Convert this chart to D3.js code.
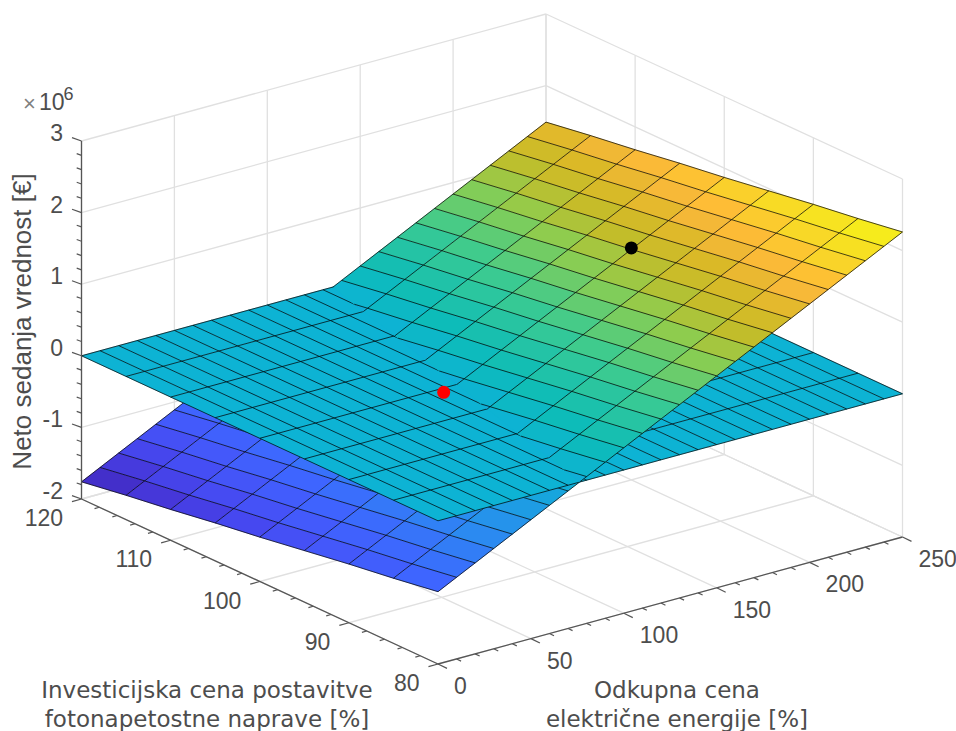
<!DOCTYPE html>
<html>
<head>
<meta charset="utf-8">
<title>Neto sedanja vrednost</title>
<script src="https://cdn.jsdelivr.net/npm/d3@7"></script>
<style>
  body { margin: 0; background: #fff; }
  text { font-family: "Liberation Sans", Arial, sans-serif; fill: #4d4d4d; }
</style>
</head>
<body>
<div id="chart"></div>
<script>
// grid of both surfaces
const priceValues = [0, 10, 20, 30, 40, 50, 60, 70, 80, 90, 100, 110, 120, 130, 140, 150, 160, 170, 180, 190, 200, 210, 220, 230, 240, 250];
const investValues = [120, 115, 110, 105, 100, 95, 90, 85, 80];

// tilted surface, z in millions, one row per investValues entry
const tiltedZ = [
  [-1.76, -1.63, -1.50, -1.37, -1.24, -1.11, -0.98, -0.85, -0.72, -0.59, -0.46, -0.33, -0.20, -0.07, 0.06, 0.19, 0.32, 0.45, 0.58, 0.71, 0.84, 0.97, 1.10, 1.23, 1.36, 1.49],
  [-1.66, -1.53, -1.40, -1.27, -1.14, -1.01, -0.88, -0.75, -0.62, -0.49, -0.36, -0.23, -0.10, 0.03, 0.16, 0.29, 0.42, 0.55, 0.68, 0.81, 0.94, 1.07, 1.20, 1.33, 1.46, 1.59],
  [-1.57, -1.44, -1.31, -1.18, -1.05, -0.92, -0.79, -0.66, -0.53, -0.40, -0.27, -0.14, -0.01, 0.12, 0.25, 0.38, 0.51, 0.64, 0.77, 0.90, 1.03, 1.16, 1.29, 1.42, 1.55, 1.68],
  [-1.47, -1.34, -1.21, -1.08, -0.95, -0.82, -0.69, -0.56, -0.43, -0.30, -0.17, -0.04, 0.09, 0.22, 0.35, 0.48, 0.61, 0.74, 0.87, 1.00, 1.13, 1.26, 1.39, 1.52, 1.65, 1.78],
  [-1.38, -1.25, -1.12, -0.99, -0.86, -0.73, -0.60, -0.47, -0.34, -0.21, -0.08, 0.05, 0.18, 0.31, 0.44, 0.57, 0.70, 0.83, 0.96, 1.09, 1.22, 1.35, 1.48, 1.61, 1.74, 1.87],
  [-1.28, -1.15, -1.02, -0.89, -0.76, -0.63, -0.50, -0.37, -0.24, -0.11, 0.02, 0.15, 0.28, 0.41, 0.54, 0.67, 0.80, 0.93, 1.06, 1.19, 1.32, 1.45, 1.58, 1.71, 1.84, 1.97],
  [-1.18, -1.05, -0.92, -0.79, -0.66, -0.53, -0.40, -0.27, -0.14, -0.01, 0.12, 0.25, 0.38, 0.51, 0.64, 0.77, 0.90, 1.03, 1.16, 1.29, 1.42, 1.55, 1.68, 1.81, 1.94, 2.07],
  [-1.09, -0.96, -0.83, -0.70, -0.57, -0.44, -0.31, -0.18, -0.05, 0.08, 0.21, 0.34, 0.47, 0.60, 0.73, 0.86, 0.99, 1.12, 1.25, 1.38, 1.51, 1.64, 1.77, 1.90, 2.03, 2.16],
  [-0.99, -0.86, -0.73, -0.60, -0.47, -0.34, -0.21, -0.08, 0.05, 0.18, 0.31, 0.44, 0.57, 0.70, 0.83, 0.96, 1.09, 1.22, 1.35, 1.48, 1.61, 1.74, 1.87, 2.00, 2.13, 2.26]
];

// the flat surface sits at zero everywhere
const flatRow = [0, 0, 0, 0, 0, 0, 0, 0, 0, 0, 0, 0, 0, 0, 0, 0, 0, 0, 0, 0, 0, 0, 0, 0, 0, 0];
const flatZ = [flatRow, flatRow, flatRow, flatRow, flatRow, flatRow, flatRow, flatRow, flatRow];

// marked points: price, invest, z
const redPoint = [99, 100, -0.06];
const blackPoint = [200, 100, 1.24];

// ticks
const xMajor = [0, 50, 100, 150, 200, 250];
const xMinor = [10, 20, 30, 40, 60, 70, 80, 90, 110, 120, 130, 140, 160, 170, 180, 190, 210, 220, 230, 240];
const yMajor = [80, 90, 100, 110, 120];
const yMinor = [82, 84, 86, 88, 92, 94, 96, 98, 102, 104, 106, 108, 112, 114, 116, 118];
const zMajor = [-2, -1, 0, 1, 2, 3];
const zMinor = [-1.8, -1.6, -1.4, -1.2, -0.8, -0.6, -0.4, -0.2, 0.2, 0.4, 0.6, 0.8, 1.2, 1.4, 1.6, 1.8, 2.2, 2.4, 2.6, 2.8];

// colormap
const colorLevels = [-1.76, -1.56, -1.36, -1.16, -0.96, -0.56, 0, 0.24, 0.64, 1.0, 1.24, 1.44, 1.6, 1.72, 1.9, 2.26];
const colorValues = ["#3e26b8", "#4636d8", "#4648f0", "#4458fa", "#3e66ff", "#2a8cf0", "#0db3d4", "#0dbcb8", "#3ccb90", "#8ccd50", "#c2bd2a", "#dbb927", "#f5b838", "#febc36", "#f8d628", "#f5f516"];

const width = 956, height = 731;
const originX = 438, originY = 664;

const color = d3.scaleLinear().domain(colorLevels).range(colorValues);

// oblique view: each data axis gets a horizontal and a vertical screen share
const xToH = d3.scaleLinear().domain([0, 250]).range([0, 464.5]);
const xToV = d3.scaleLinear().domain([0, 250]).range([0, -127]);
const yToH = d3.scaleLinear().domain([80, 120]).range([0, -356.5]);
const yToV = d3.scaleLinear().domain([80, 120]).range([0, -165]);
const zToV = d3.scaleLinear().domain([-2, 3]).range([0, -358]);

function project(x, y, z) {
  return [originX + xToH(x) + yToH(y), originY + xToV(x) + yToV(y) + zToV(z)];
}

const svg = d3.select("#chart").append("svg")
  .attr("width", width)
  .attr("height", height)
  .style("display", "block");

const line3d = pts => d3.line()(pts.map(p => project(p[0], p[1], p[2])));

// grid on floor and the two back walls
const gridLines = [];
xMajor.forEach(x => {
  gridLines.push([[x, 80, -2], [x, 120, -2]]);
  gridLines.push([[x, 120, -2], [x, 120, 3]]);
});
yMajor.forEach(y => {
  gridLines.push([[0, y, -2], [250, y, -2]]);
  gridLines.push([[250, y, -2], [250, y, 3]]);
});
zMajor.forEach(z => {
  gridLines.push([[0, 120, z], [250, 120, z]]);
  gridLines.push([[250, 120, z], [250, 80, z]]);
});

svg.append("g").selectAll("path")
  .data(gridLines)
  .enter().append("path")
  .attr("d", line3d)
  .attr("fill", "none")
  .attr("stroke", "#e0e0e0")
  .attr("stroke-width", 1.3);

// keep only the part of a polygon on one side of the crossing of the two surfaces
function clipPolygon(pts, side) {
  const out = [];
  pts.forEach((a, i) => {
    const b = pts[(i + 1) % pts.length];
    const da = a.d * side, db = b.d * side;
    if (da >= 0) out.push(a);
    if ((da > 0 && db < 0) || (da < 0 && db > 0)) out.push(mix(a, b, da / (da - db)));
  });
  return out;
}

function clipSegment(a, b, side) {
  const da = a.d * side, db = b.d * side;
  if (da < 0 && db < 0) return null;
  if (da >= 0 && db >= 0) return [a, b];
  const m = mix(a, b, da / (da - db));
  return da >= 0 ? [a, m] : [m, b];
}

function mix(a, b, t) {
  return {
    p: a.p.map((v, k) => v + (b.p[k] - v) * t),
    d: a.d + (b.d - a.d) * t
  };
}

// side: +1 part above the other surface, -1 part below, 0 no clipping
function drawSurface(rows, side) {
  const g = svg.append("g");
  const vertex = (j, i) => ({
    p: [priceValues[i], investValues[j], rows[j][i]],
    d: side === 0 ? 1 : tiltedZ[j][i] - flatZ[j][i]
  });
  const keep = side === 0 ? 1 : side;

  const cells = [];
  for (let j = 0; j < investValues.length - 1; j++) {
    for (let i = 0; i < priceValues.length - 1; i++) {
      const corners = [vertex(j, i), vertex(j, i + 1), vertex(j + 1, i + 1), vertex(j + 1, i)];
      const poly = clipPolygon(corners, keep);
      if (poly.length > 2) cells.push({ poly: poly, z: d3.mean(corners, c => c.p[2]) });
    }
  }
  g.selectAll("path.cell")
    .data(cells)
    .enter().append("path")
    .attr("class", "cell")
    .attr("d", c => line3d(c.poly.map(v => v.p)) + "Z")
    .attr("fill", c => color(c.z))
    .attr("stroke", c => color(c.z))
    .attr("stroke-width", 0.5);

  const segs = [];
  const addSeg = (a, b) => {
    const s = clipSegment(a, b, keep);
    if (s) segs.push(s);
  };
  for (let j = 0; j < investValues.length; j++) {
    for (let i = 0; i < priceValues.length; i++) {
      if (i < priceValues.length - 1) addSeg(vertex(j, i), vertex(j, i + 1));
      if (j < investValues.length - 1) addSeg(vertex(j, i), vertex(j + 1, i));
    }
  }
  g.selectAll("path.mesh")
    .data(segs)
    .enter().append("path")
    .attr("class", "mesh")
    .attr("d", s => line3d(s.map(v => v.p)))
    .attr("fill", "none")
    .attr("stroke", "#000")
    .attr("stroke-opacity", 0.8)
    .attr("stroke-width", 0.9);
}

drawSurface(tiltedZ, -1);
drawSurface(flatZ, 0);
drawSurface(tiltedZ, 1);

// marked points
svg.selectAll("circle.mark")
  .data([{ c: redPoint, fill: "#ff0000" }, { c: blackPoint, fill: "#000000" }])
  .enter().append("circle")
  .attr("class", "mark")
  .attr("cx", d => project(...d.c)[0])
  .attr("cy", d => project(...d.c)[1])
  .attr("r", 6.5)
  .attr("fill", d => d.fill);

// axes with their ticks, each tick runs along another data axis
const axisColor = "#555";
const axes = svg.append("g").attr("stroke", axisColor).attr("fill", "none");

function drawTicks(values, at, dx, dy, w) {
  axes.append("g").selectAll("line")
    .data(values)
    .enter().append("line")
    .attr("x1", v => at(v)[0])
    .attr("y1", v => at(v)[1])
    .attr("x2", v => at(v)[0] + dx)
    .attr("y2", v => at(v)[1] + dy)
    .attr("stroke-width", w);
}

const xAt = v => project(v, 80, -2);
const yAt = v => project(0, v, -2);
const zAt = v => project(0, 120, v);

[[[0, 80, -2], [250, 80, -2]], [[0, 80, -2], [0, 120, -2]], [[0, 120, -2], [0, 120, 3]]].forEach(seg => {
  axes.append("path").attr("d", line3d(seg)).attr("stroke-width", 1.3);
});

drawTicks(xMajor, xAt, 9, 4.4, 1.2);
drawTicks(xMinor, xAt, 4.5, 2.2, 1.2);
drawTicks(yMajor, yAt, -9.5, 2.7, 1.2);
drawTicks(yMinor, yAt, -4.8, 1.4, 1.2);
drawTicks(zMajor, zAt, -9.5, -3.4, 1.2);
drawTicks(zMinor, zAt, -4.8, -1.7, 1.2);

// tick labels
const tickFont = "23px";
function drawLabels(values, at, dx, dy, anchor) {
  svg.append("g").selectAll("text")
    .data(values)
    .enter().append("text")
    .attr("x", v => at(v)[0] + dx)
    .attr("y", v => at(v)[1] + dy + 8)
    .attr("text-anchor", anchor)
    .style("font-size", tickFont)
    .text(v => v);
}

drawLabels(xMajor, xAt, 16, 22, "start");
drawLabels(yMajor, yAt, -18.5, 19, "end");
drawLabels(zMajor, zAt, -18.5, -8, "end");

// exponent above the z axis
svg.append("text").attr("x", 23).attr("y", 111).style("font-size", "22px").style("fill", "#808080").text("×");
svg.append("text").attr("x", 39).attr("y", 109.5).style("font-size", "23px").text("10");
svg.append("text").attr("x", 63.5).attr("y", 100).style("font-size", "18px").text("6");

// axis titles
svg.append("text")
  .attr("transform", "translate(30.5,321.5) rotate(-90)")
  .attr("text-anchor", "middle")
  .style("font-size", "26px")
  .text("Neto sedanja vrednost [€]");

const yTitle = ["Investicijska cena postavitve", "fotonapetostne naprave [%]"];
const xTitle = ["Odkupna cena", "električne energije [%]"];
const titleY = [698, 727];
const titleFont = "\"DejaVu Sans\", Verdana, sans-serif";

svg.append("g").selectAll("text")
  .data(yTitle)
  .enter().append("text")
  .attr("x", 207)
  .attr("y", (d, i) => titleY[i])
  .attr("text-anchor", "middle")
  .style("font-family", titleFont)
  .style("font-size", "23px")
  .text(d => d);

svg.append("g").selectAll("text")
  .data(xTitle)
  .enter().append("text")
  .attr("x", 677)
  .attr("y", (d, i) => titleY[i])
  .attr("text-anchor", "middle")
  .style("font-family", titleFont)
  .style("font-size", "23px")
  .text(d => d);
</script>
</body>
</html>
